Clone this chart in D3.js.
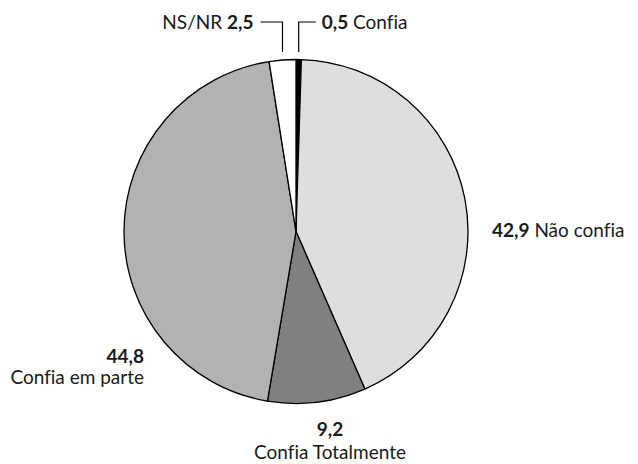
<!DOCTYPE html>
<html>
<head>
<meta charset="utf-8">
<script src="https://cdn.jsdelivr.net/npm/d3@7"></script>
<style>
  body { margin: 0; background: #fff; }
  text { font-family: Lato, "Open Sans", sans-serif; font-size: 19px; fill: #1a1a1a;
         font-variant-ligatures: none; font-feature-settings: "liga" 0; }
  .val { font-weight: bold; }
</style>
</head>
<body>
<script>
// categories in clockwise order starting at 12 o'clock
const categories = ['Confia', 'Não confia', 'Confia Totalmente', 'Confia em parte', 'NS/NR'];
const values = [0.5, 42.9, 9.2, 44.8, 2.5];
const valueLabels = ['0,5', '42,9', '9,2', '44,8', '2,5'];
const colors = ['#000000', '#dedede', '#808080', '#b2b2b2', '#ffffff'];

const width = 638, height = 464;
const cx = 296, cy = 231.5, radius = 172;

const svg = d3.select('body').append('svg')
    .attr('width', width)
    .attr('height', height);

const g = svg.append('g').attr('transform', `translate(${cx},${cy})`);

const data = categories.map((c, i) => ({ name: c, value: values[i], label: valueLabels[i], color: colors[i] }));

const pie = d3.pie().sort(null).value(d => d.value);
const arc = d3.arc().innerRadius(0).outerRadius(radius);
const arcs = pie(data);

g.selectAll('path.slice')
    .data(arcs)
    .enter().append('path')
    .attr('class', 'slice')
    .attr('d', arc)
    .attr('fill', d => d.data.color)
    .attr('stroke', '#000')
    .attr('stroke-width', 1.3)
    .attr('stroke-linejoin', 'round');

// point on the outer edge at the middle of a slice
const edgeX = (d, r) => Math.sin((d.startAngle + d.endAngle) / 2) * r;

// small slices at the top get leader lines
const lineTopY = 22 - cy;
const lineBotY = 52 - cy;

const confia = arcs[0];
const nsnr = arcs[4];

// Confia (right)
const cX = edgeX(confia, radius);
g.append('path')
    .attr('d', `M${cX},${lineBotY}V${lineTopY}H${cX + 17}`)
    .attr('fill', 'none').attr('stroke', '#000').attr('stroke-width', 1.2);
const tConfia = g.append('text')
    .attr('x', cX + 23).attr('y', lineTopY + 7);
tConfia.append('tspan').attr('class', 'val').text(confia.data.label);
tConfia.append('tspan').text(' ' + confia.data.name);

// NS/NR (left)
const nX = edgeX(nsnr, radius);
g.append('path')
    .attr('d', `M${nX},${lineBotY}V${lineTopY}H${nX - 22}`)
    .attr('fill', 'none').attr('stroke', '#000').attr('stroke-width', 1.2);
const tNs = g.append('text')
    .attr('x', nX - 29).attr('y', lineTopY + 7)
    .attr('text-anchor', 'end');
tNs.append('tspan').text(nsnr.data.name + ' ');
tNs.append('tspan').attr('class', 'val').text(nsnr.data.label);

// Não confia (right side, inline)
const nc = arcs[1];
const tNc = g.append('text')
    .attr('x', 492 - cx).attr('y', 237 - cy);
tNc.append('tspan').attr('class', 'val').text(nc.data.label);
tNc.append('tspan').text(' ' + nc.data.name);

// Confia Totalmente (below, centred)
const ct = arcs[2];
g.append('text').attr('class', 'val')
    .attr('x', 330 - cx).attr('y', 436 - cy)
    .attr('text-anchor', 'middle')
    .text(ct.data.label);
g.append('text')
    .attr('x', 330 - cx).attr('y', 459 - cy)
    .attr('text-anchor', 'middle')
    .text(ct.data.name);

// Confia em parte (left, right-aligned)
const cp = arcs[3];
g.append('text').attr('class', 'val')
    .attr('x', 144 - cx).attr('y', 363 - cy)
    .attr('text-anchor', 'end')
    .text(cp.data.label);
g.append('text')
    .attr('x', 144 - cx).attr('y', 384 - cy)
    .attr('text-anchor', 'end')
    .text(cp.data.name);
</script>
</body>
</html>
